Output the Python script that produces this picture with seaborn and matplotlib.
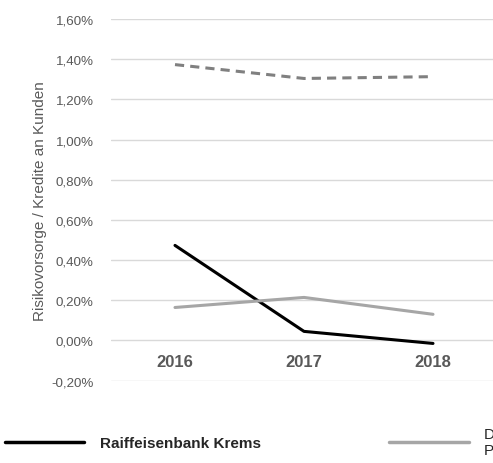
import seaborn as sns
import matplotlib.pyplot as plt
import matplotlib.ticker as mticker
import pandas as pd

# data (values in percent)
years = ["2016", "2017", "2018"]
raiba_krems = [0.473, 0.045, -0.015]
peer_avg = [0.164, 0.214, 0.130]
sector_avg = [1.373, 1.304, 1.313]

series_names = ["Raiffeisenbank Krems", "Durchschnitt\nPeer Group", "Durchschnitt Sektor"]

df = pd.DataFrame({
    "Jahr": years * 3,
    "Wert": raiba_krems + peer_avg + sector_avg,
    "Serie": [series_names[0]] * 3 + [series_names[1]] * 3 + [series_names[2]] * 3,
})

sns.set_style("white")
plt.rcParams["font.family"] = ["Liberation Sans", "DejaVu Sans"]

fig = plt.figure(figsize=(4.93, 4.64), dpi=100)
ax = fig.add_axes([110.5 / 493, 82 / 464, 387 / 493, 362 / 464])

palette = {series_names[0]: "#000000", series_names[1]: "#A6A6A6", series_names[2]: "#808080"}
dashes = {series_names[0]: "", series_names[1]: "", series_names[2]: (3, 2)}

sns.lineplot(data=df, x="Jahr", y="Wert", hue="Serie", style="Serie",
             palette=palette, dashes=dashes, linewidth=2.2, ax=ax, legend=False,
             sort=False)

ax.set_xlim(-0.5, 2.5)
ax.set_ylim(-0.202, 1.6)
ax.yaxis.set_major_locator(mticker.MultipleLocator(0.2))
ax.yaxis.set_major_formatter(mticker.FuncFormatter(lambda v, p: f"{v:.2f}%".replace(".", ",")))
ax.grid(axis="y", color="#D9D9D9", linewidth=1)
ax.set_axisbelow(True)
for s in ax.spines.values():
    s.set_visible(False)

ax.tick_params(axis="y", labelsize=9.6, labelcolor="#595959", length=0, pad=12)
ax.set_xticks([])
ax.set_xlabel("")
ax.set_ylabel("Risikovorsorge / Kredite an Kunden", fontsize=11, color="#595959", labelpad=3)

# category labels sit just under the zero line, like Excel
for i, yr in enumerate(years):
    ax.text(i, -0.105, yr, ha="center", va="center", fontsize=12,
            fontweight="bold", color="#595959")

# legend
handles = [
    plt.Line2D([], [], color="#000000", linewidth=2.5),
    plt.Line2D([], [], color="#A6A6A6", linewidth=2.5),
    plt.Line2D([], [], color="#808080", linewidth=2.5, linestyle=(0, (3, 2))),
]
leg = fig.legend(handles, series_names, loc="center left", ncol=3,
                 bbox_to_anchor=(0.0, 21 / 464), frameon=False,
                 handlelength=5.2, handletextpad=1.0, columnspacing=8.4,
                 borderpad=0, borderaxespad=0.33, fontsize=11)
leg.get_texts()[0].set_fontweight("bold")

fig.savefig("out.png", dpi=100)
plt.close(fig)
